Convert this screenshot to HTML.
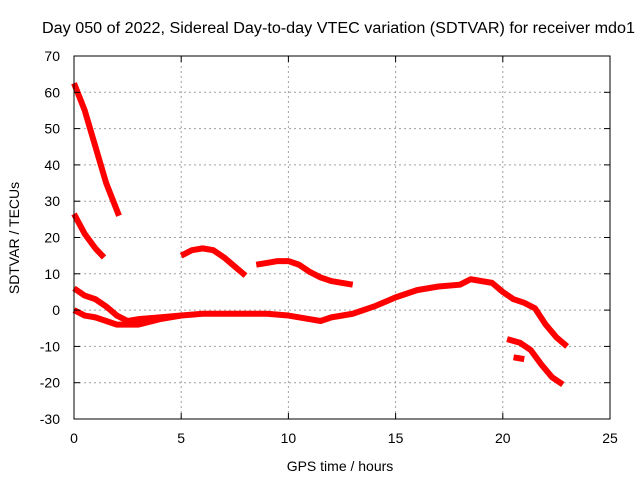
<!DOCTYPE html>
<html><head><meta charset="utf-8"><style>
body{margin:0;background:#fff;}
svg text{font-family:"Liberation Sans",sans-serif;font-size:14px;fill:#000;}
</style></head><body>
<svg id="chart" width="640" height="480" xmlns="http://www.w3.org/2000/svg">
<text x="42" y="33" textLength="593" lengthAdjust="spacingAndGlyphs" style="font-size:15.5px">Day 050 of 2022, Sidereal Day-to-day VTEC variation (SDTVAR) for receiver mdo1</text>
<text x="340" y="471" text-anchor="middle">GPS time / hours</text>
<text x="0" y="0" transform="translate(19,238) rotate(-90)" text-anchor="middle">SDTVAR / TECUs</text>
<g id="grid"></g><g id="series"></g><g id="axes"></g>
</svg>
<script>
const xTicks=[0,5,10,15,20,25];
const yTicks=[-30,-20,-10,0,10,20,30,40,50,60,70];
const seg1X=[0,0.5,1,1.5,2.1];
const seg1Y=[62.5,55,45,35,26];
const seg2X=[0,0.5,1,1.4];
const seg2Y=[26.5,21,17,14.5];
const seg3X=[5,5.5,6,6.5,7,7.5,8];
const seg3Y=[15,16.5,17,16.5,14.5,12,9.5];
const seg4X=[8.5,9,9.5,10,10.5,11,11.5,12,13];
const seg4Y=[12.5,13,13.5,13.5,12.5,10.5,9,8,7];
const seg5X=[0,0.5,1,1.5,2,2.5,3,4,5,6,7,8,9,10,11,11.5,12,13,14,15,16,17,18,18.5,19.5,20,20.5,21,21.5,22,22.5,23];
const seg5Y=[6,4,3,1,-1.5,-3,-2.5,-2,-1.5,-1,-1,-1,-1,-1.5,-2.5,-3,-2,-1,1,3.5,5.5,6.5,7,8.5,7.5,5,3,2,0.5,-4,-7.5,-10];
const seg6X=[0,0.5,1,1.5,2,3,4,5];
const seg6Y=[0,-1.5,-2,-3,-4,-4,-2.5,-1.5];
const seg7X=[20.2,20.8,21.3,21.8,22.3,22.8];
const seg7Y=[-8,-9,-11,-15,-18.5,-20.5];
const seg8X=[20.5,21];
const seg8Y=[-13,-13.5];
const X0=74,X1=610,Y0=419,Y1=56;
const sx=v=>X0+(v-0)/25*(X1-X0);
const sy=v=>Y0-(v+30)/100*(Y0-Y1);
const NS='http://www.w3.org/2000/svg';
function mk(t,a,p){const e=document.createElementNS(NS,t);for(const k in a)e.setAttribute(k,a[k]);p.appendChild(e);return e;}
const grid=document.getElementById('grid'),axes=document.getElementById('axes'),ser=document.getElementById('series');
xTicks.forEach(t=>{
 if(t>0&&t<25){const l=mk('line',{x1:sx(t),x2:sx(t),y1:Y1,y2:Y0,stroke:'#a0a0a0','stroke-dasharray':'2,3'},grid);
 
 }
 mk('line',{x1:sx(t),x2:sx(t),y1:Y0,y2:Y0-6,stroke:'#000'},axes);
 mk('line',{x1:sx(t),x2:sx(t),y1:Y1,y2:Y1+6,stroke:'#000'},axes);
 const tx=mk('text',{x:sx(t),y:Y0+24,'text-anchor':'middle'},axes);tx.textContent=t;
 
 
});
yTicks.forEach(t=>{
 if(t>-30&&t<70){const l=mk('line',{x1:X0,x2:X1,y1:sy(t),y2:sy(t),stroke:'#a0a0a0','stroke-dasharray':'2,3'},grid);
 
 }
 mk('line',{x1:X0,x2:X0+6,y1:sy(t),y2:sy(t),stroke:'#000'},axes);
 mk('line',{x1:X1,x2:X1-6,y1:sy(t),y2:sy(t),stroke:'#000'},axes);
 const tx=mk('text',{x:X0-14,y:sy(t)+5,'text-anchor':'end'},axes);tx.textContent=t;
 
 
});
const fr=mk('rect',{x:X0,y:Y1,width:X1-X0,height:Y0-Y1,fill:'none',stroke:'#000'},axes);


[[seg1X,seg1Y],[seg2X,seg2Y],[seg3X,seg3Y],[seg4X,seg4Y],[seg5X,seg5Y],[seg6X,seg6Y],[seg7X,seg7Y],[seg8X,seg8Y]].forEach((s,i)=>{
 const pts=s[0].map((x,j)=>sx(x)+','+sy(s[1][j])).join(' ');
 const p=mk('polyline',{points:pts,fill:'none',stroke:'#ff0000','stroke-width':6,'stroke-linejoin':'round'},ser);
 
 
});
</script>
</body></html>
